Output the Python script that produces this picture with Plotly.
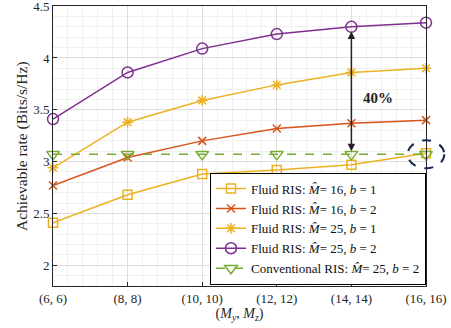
import plotly.graph_objects as go

categories = ["(6, 6)", "(8, 8)", "(10, 10)", "(12, 12)", "(14, 14)", "(16, 16)"]
fluid_16_b1 = [2.41, 2.68, 2.88, 2.92, 2.97, 3.08]
fluid_16_b2 = [2.77, 3.04, 3.20, 3.32, 3.37, 3.40]
fluid_25_b1 = [2.94, 3.38, 3.59, 3.74, 3.86, 3.90]
fluid_25_b2 = [3.41, 3.86, 4.09, 4.23, 4.30, 4.34]
conventional = [3.07, 3.07, 3.07, 3.07, 3.07, 3.07]

x = list(range(len(categories)))
YMIN, YMAX = 1.8, 4.5
XMIN, XMAX = 0, len(categories) - 1

YEL = "#EDB120"
RED = "#D95319"
PUR = "#7E2F8E"
GRN = "#77AC30"
FONT = "Liberation Serif"

fig = go.Figure()

def add(y, name, color, symbol, size, dash="solid"):
    fig.add_trace(go.Scatter(
        x=x, y=y, name=name, mode="lines+markers",
        line=dict(color=color, width=1.5, dash=dash),
        marker=dict(symbol=symbol, size=size, color=color,
                    line=dict(color=color, width=1.5)),
        cliponaxis=False,
    ))

add(fluid_16_b1, "Fluid RIS: <i>M̂</i>= 16, <i>b</i> = 1", YEL, "square-open", 9)
add(fluid_16_b2, "Fluid RIS: <i>M̂</i>= 16, <i>b</i> = 2", RED, "x-thin-open", 8)
add(fluid_25_b1, "Fluid RIS: <i>M̂</i>= 25, <i>b</i> = 1", YEL, "asterisk-open", 9)
add(fluid_25_b2, "Fluid RIS: <i>M̂</i>= 25, <i>b</i> = 2", PUR, "circle-open", 11)
add(conventional, "Conventional RIS: <i>M̂</i>= 25, <i>b</i> = 2", GRN, "triangle-down-open", 11, dash="dash")

# double arrow between purple and conventional at (14,14)
idx = 4
fig.add_annotation(x=idx, y=conventional[idx] + 0.03, ax=idx, ay=fluid_25_b2[idx] - 0.03,
                   xref="x", yref="y", axref="x", ayref="y",
                   showarrow=True, arrowhead=2, arrowside="end+start",
                   arrowsize=1, arrowwidth=1.5, arrowcolor="#222222", text="")
fig.add_annotation(x=idx + 0.35, y=3.615, xref="x", yref="y", text="<b>40%</b>",
                   showarrow=False, font=dict(family=FONT, size=15, color="#222222"))

# y-axis title as an annotation (placed precisely)
fig.add_annotation(x=0, y=0.5, xref="paper", yref="paper", xshift=-31,
                   text="Achievable rate (Bits/s/Hz)", textangle=-90,
                   showarrow=False, xanchor="center", yanchor="middle",
                   font=dict(family=FONT, size=15.5, color="#262626"))

# dashed ellipse around last conventional point (paper coords so it is not clipped)
cx = (5 - XMIN) / (XMAX - XMIN)
cy = (conventional[5] - YMIN) / (YMAX - YMIN)
hx = 0.245 / (XMAX - XMIN)
hy = 0.135 / (YMAX - YMIN)
fig.add_shape(type="circle", xref="paper", yref="paper",
              x0=cx - hx, x1=cx + hx, y0=cy - hy, y1=cy + hy,
              line=dict(color="#1b2a55", width=2, dash="dash"))

axis_common = dict(
    showline=True, linecolor="#262626", linewidth=1, mirror=True,
    ticks="inside", ticklen=4, tickcolor="#262626",
    showgrid=True, gridcolor="#dedede", gridwidth=0.8,
    zeroline=False, automargin=False, ticklabeloverflow="allow",
    tickfont=dict(family=FONT, size=13, color="#262626"),
)

fig.update_xaxes(
    range=[XMIN, XMAX], tickvals=x, ticktext=categories,
    minor=dict(dtick=0.2, showgrid=True, gridcolor="#f0f0f0", gridwidth=0.8),
    title=dict(text="(<i>M</i><sub><i>y</i></sub>, <i>M</i><sub><i>z</i></sub>)",
               font=dict(family=FONT, size=14, color="#262626"), standoff=0),
    **axis_common,
)
fig.update_yaxes(
    range=[YMIN, YMAX + 0.001], tickvals=[2, 2.5, 3, 3.5, 4, 4.5],
    ticktext=["2", "2.5", "3", "3.5", "4", "4.5"],
    minor=dict(dtick=0.1, showgrid=True, gridcolor="#f0f0f0", gridwidth=0.8),
    **axis_common,
)

fig.update_layout(
    width=451, height=328,
    margin=dict(l=53, r=25, t=6, b=42),
    paper_bgcolor="white", plot_bgcolor="white",
    showlegend=True,
    legend=dict(x=1, y=0.005, xanchor="right", yanchor="bottom",
                bgcolor="white", bordercolor="#000000", borderwidth=1,
                font=dict(family=FONT, size=13, color="#111111"),
                tracegroupgap=0, itemwidth=30),
    font=dict(family=FONT),
)

fig.write_html("out.html", config={"displayModeBar": False},
               post_script="document.body.style.margin='0';")
